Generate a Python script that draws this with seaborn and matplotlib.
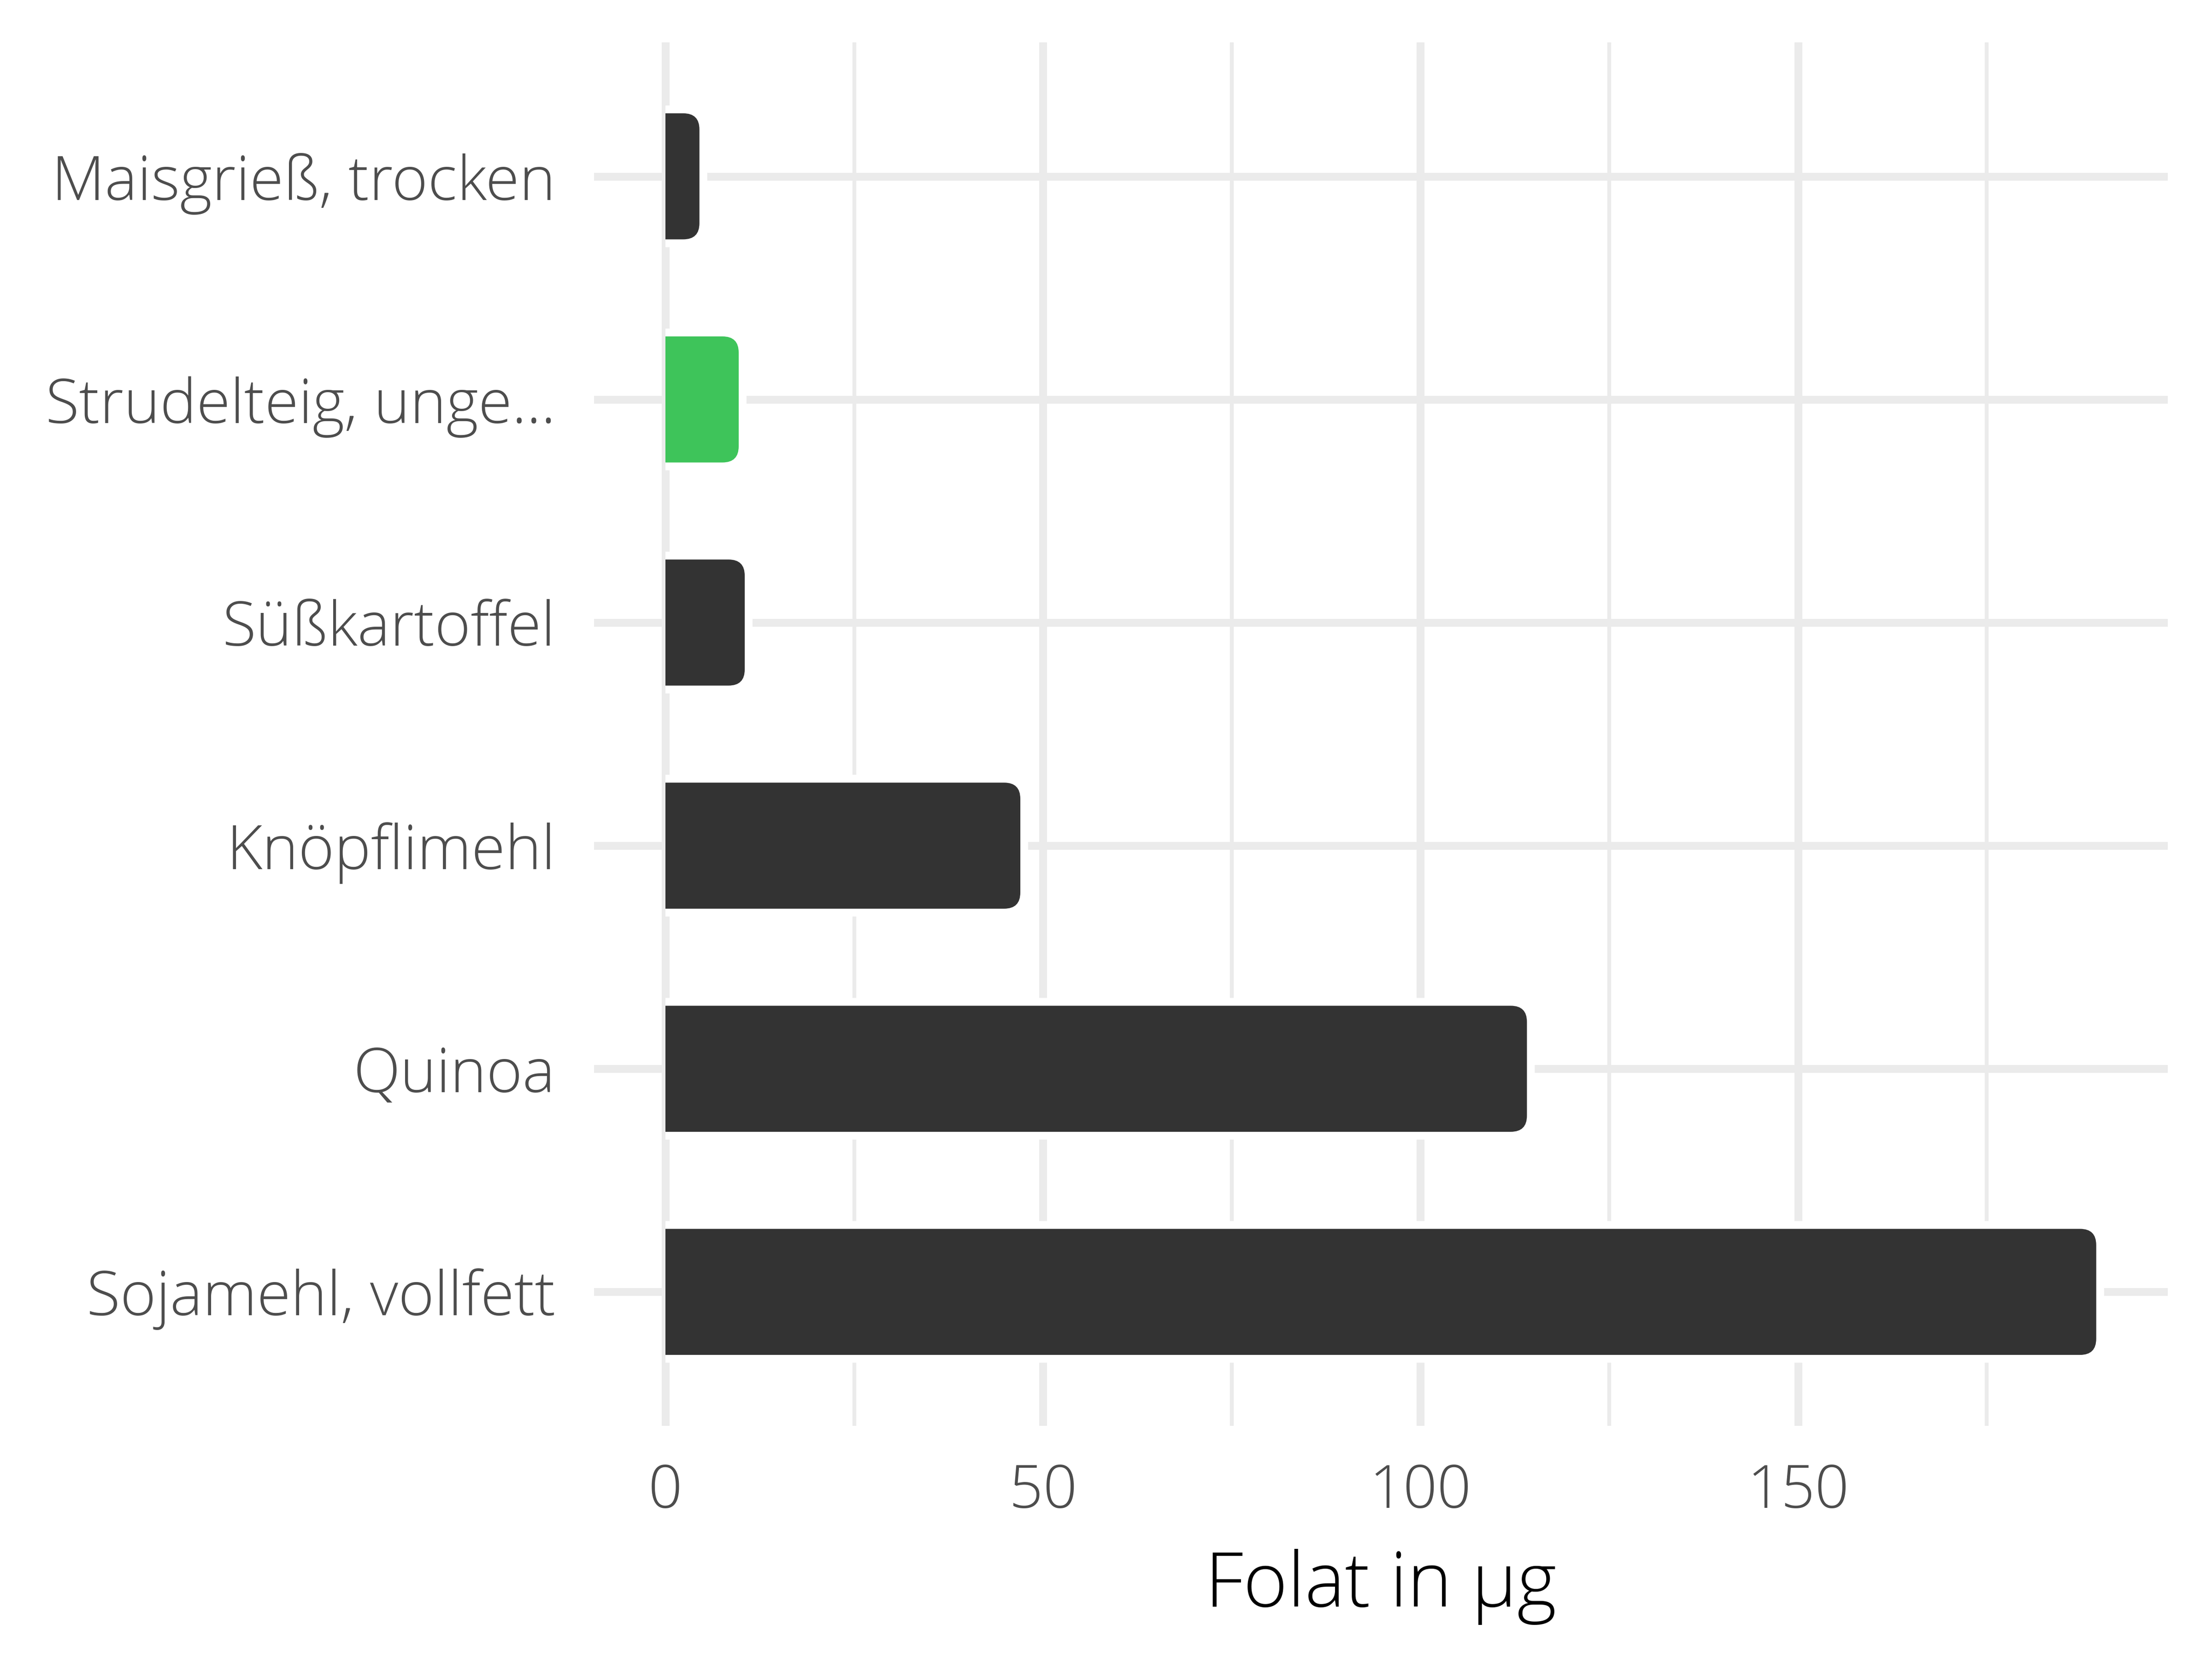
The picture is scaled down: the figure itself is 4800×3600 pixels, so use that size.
import matplotlib
matplotlib.use("Agg")
import matplotlib.pyplot as plt
import seaborn as sns
import pandas as pd
from matplotlib.patches import FancyBboxPatch, Rectangle

# ---- data ----
foods = ["Maisgrieß, trocken", "Strudelteig, unge...", "Süßkartoffel",
         "Knöpflimehl", "Quinoa", "Sojamehl, vollfett"]
folate = [4.5, 9.7, 10.5, 47.0, 114.1, 189.5]
groups = ["normal", "highlight", "normal", "normal", "normal", "normal"]
x_ticks = [0, 50, 100, 150]
x_minor = [25, 75, 125, 175]
x_label = "Folat in µg"

palette = {"normal": "#333333", "highlight": "#3ec45a"}

sns.set_theme(style="whitegrid")
plt.rcParams["font.family"] = ["Open Sans", "DejaVu Sans"]

df = pd.DataFrame({"food": foods, "folate": folate, "group": groups})

fig = plt.figure(figsize=(16, 12), dpi=300)
L, R, B, T = 0.2685, 0.980, 0.1406, 0.9744
ax = fig.add_axes([L, B, R - L, T - B])

sns.barplot(data=df, x="folate", y="food", hue="group", palette=palette,
            saturation=1, dodge=False, width=0.565, legend=False, ax=ax,
            order=foods)

xmax = max(folate)
ax.set_xlim(-0.05 * xmax, 1.05 * xmax)
ax.set_ylim(len(foods) - 1 + 0.6, -0.6)

ax.set_xticks(x_ticks)
ax.set_xticks(x_minor, minor=True)
ax.set_axisbelow(True)
ax.grid(False)
ax.grid(which="major", axis="both", color="#ebebeb", linewidth=4.1)
ax.grid(which="minor", axis="x", color="#ebebeb", linewidth=2.0)
for s in ax.spines.values():
    s.set_visible(False)
ax.set_facecolor("white")

ax.tick_params(axis="both", which="both", length=0, labelcolor="#4d4d4d")
ax.tick_params(axis="y", pad=20, labelsize=32)
ax.tick_params(axis="x", pad=19, labelsize=31)
for lab in ax.get_xticklabels() + ax.get_yticklabels():
    lab.set_fontweight("light")
ax.set_ylabel("")
ax.set_xlabel(x_label, fontsize=39.5, color="black", labelpad=14,
              fontweight="light")

# ---- rounded bars ----
fig.canvas.draw()
p0 = ax.transData.transform((0, 0))
p1 = ax.transData.transform((1, 1))
xppu = abs(p1[0] - p0[0])
yppu = abs(p1[1] - p0[1])
aspect = xppu / yppu
r_x = 35 / xppu
pad_x = 17 / xppu

clip_rect = Rectangle((0, -10), 1e4, 100, transform=ax.transData)

bars = list(ax.patches)
for p in bars:
    x0, y0, w, h = p.get_x(), p.get_y(), p.get_width(), p.get_height()
    col = p.get_facecolor()
    p.remove()
    white = FancyBboxPatch((x0 - r_x - pad_x, y0), w + r_x + pad_x, h,
                           boxstyle=f"round,pad={pad_x},rounding_size={r_x + pad_x}",
                           mutation_aspect=aspect, facecolor="white",
                           edgecolor="none", zorder=1)
    ax.add_patch(white)
    white.set_clip_path(clip_rect)
    bar = FancyBboxPatch((x0 - r_x, y0), w + r_x, h,
                         boxstyle=f"round,pad=0,rounding_size={r_x}",
                         mutation_aspect=aspect, facecolor=col,
                         edgecolor="none", zorder=2)
    ax.add_patch(bar)
    bar.set_clip_path(clip_rect)

fig.savefig("out.png", dpi=300, facecolor="white")
